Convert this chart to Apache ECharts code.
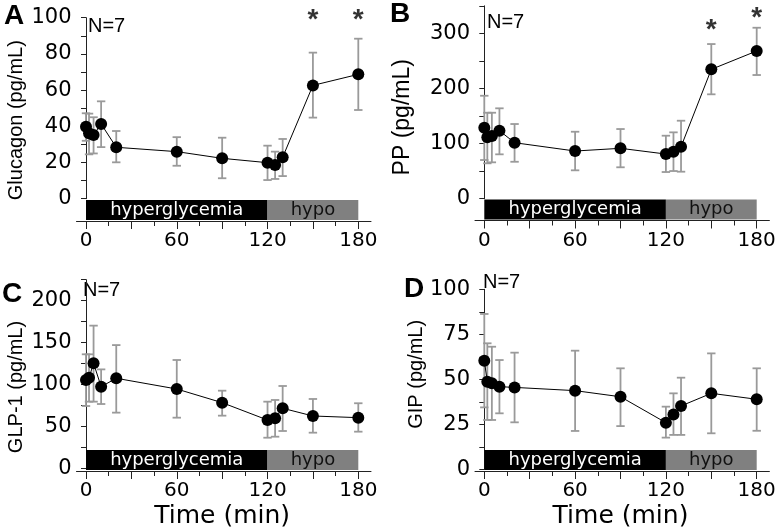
<!DOCTYPE html>
<html><head><meta charset="utf-8">
<script src="https://cdn.jsdelivr.net/npm/echarts@6/dist/echarts.min.js"></script>
<style>html,body{margin:0;padding:0;background:#fff}#c{width:778px;height:527px}</style>
</head><body><div id="c"></div>
<script>
// ---- data ----
const times = [0, 2, 5, 10, 20, 60, 90, 120, 125, 130, 150, 180];
const glucagonMean = [39.8, 36.1, 35.2, 41.3, 28.4, 26.0, 22.3, 19.9, 18.6, 22.9, 62.6, 68.7];
const glucagonLow  = [32.0, 24.5, 25.0, 28.5, 20.1, 18.2, 11.3, 10.3, 10.9, 12.5, 44.8, 49.0];
const glucagonHigh = [47.2, 47.0, 45.0, 53.8, 37.4, 34.0, 33.7, 29.3, 26.0, 33.0, 80.7, 88.4];
const ppMean = [128.8, 111.4, 113.7, 123.4, 101.6, 86.5, 91.4, 81.0, 85.3, 94.3, 234.7, 268.0];
const ppLow  = [70.2, 64.2, 66.0, 80.5, 67.0, 51.5, 57.0, 48.4, 50.2, 49.0, 189.4, 224.4];
const ppHigh = [186.8, 156.0, 156.0, 164.0, 135.5, 121.5, 126.4, 114.3, 120.4, 141.5, 280.6, 310.2];
const glp1Mean = [105.4, 108.1, 125.3, 97.4, 107.4, 94.6, 78.3, 57.6, 59.6, 71.6, 62.4, 60.4];
const glp1Low  = [74.3, 79.5, 79.5, 76.7, 66.4, 60.4, 62.8, 36.5, 37.7, 44.5, 42.5, 43.7];
const glp1High = [136.0, 136.0, 170.2, 118.0, 147.0, 129.2, 92.6, 79.5, 81.5, 98.2, 82.7, 77.6];
const gipMean = [60.3, 48.7, 47.8, 45.9, 45.5, 43.7, 40.3, 25.9, 30.5, 35.2, 42.2, 38.9];
const gipLow  = [34.4, 27.4, 27.4, 31.1, 26.1, 21.3, 24.0, 17.6, 19.1, 19.1, 20.0, 21.4];
const gipHigh = [86.3, 70.0, 68.1, 60.7, 64.8, 65.9, 56.1, 34.8, 42.2, 50.9, 64.4, 56.1];
const starTimes = [150, 180];
const glucagonStarY = [101.5, 101.5];
const ppStarY = [315, 336];
const phaseStart = [0, 120];
const phaseEnd = [120, 180];
const phaseNames = ['hyperglycemia', 'hypo'];
const xTickLabels = [0, 60, 120, 180];

// ---- layout ----
const panels = [
  {letter:'A', title:'Glucagon (pg/mL)', mean:glucagonMean, low:glucagonLow, high:glucagonHigh, stars:glucagonStarY,
   x0:86, x1:358.3, yTop:17.7, y0:198.7, axY:221, yAxX:76.5, ymax:100, tick:10, lab:20, gap:50, tpad:[0,24,0,0], tfs:20,
   lx:4, ly:2, nx:88, ny:16, xname:false},
  {letter:'B', title:'PP (pg/mL)', mean:ppMean, low:ppLow, high:ppHigh, stars:ppStarY,
   x0:484.3, x1:756.7, yTop:5.8, y0:198.7, axY:220.5, yAxX:475, ymax:350, tick:50, lab:100, gap:61, tpad:[0,30,0,0], tfs:23,
   lx:390, ly:0, nx:487, ny:12, xname:false},
  {letter:'C', title:'GLP-1 (pg/mL)', mean:glp1Mean, low:glp1Low, high:glp1High, stars:null,
   x0:86, x1:358.3, yTop:279.7, y0:468.3, axY:471, yAxX:76.5, ymax:225, tick:25, lab:50, gap:50, tpad:[0,26,0,0], tfs:20,
   lx:2, ly:280, nx:83, ny:280, xname:true},
  {letter:'D', title:'GIP (pg/mL)', mean:gipMean, low:gipLow, high:gipHigh, stars:null,
   x0:484.3, x1:756.7, yTop:289.3, y0:469.3, axY:471, yAxX:475, ymax:100, tick:12.5, lab:25, gap:46, tpad:[0,0,0,10], tfs:20,
   lx:404, ly:275, nx:483, ny:272, xname:true}
];

const FONT = 'Liberation Sans';
const TICKFONT = 'DejaVu Sans';
const grids = [], xAxes = [], yAxes = [], series = [], graphics = [];

function addGrid(g) {
  grids.push(Object.assign({containLabel:false, outerBoundsMode:'none'}, g));
  return grids.length - 1;
}

panels.forEach((p) => {
  const w = p.x1 - p.x0;
  // data grid
  const gData = addGrid({left:p.x0, top:p.yTop, width:w, height:p.y0 - p.yTop});
  xAxes.push({gridIndex:gData, type:'value', min:0, max:180, show:false});
  yAxes.push({gridIndex:gData, type:'value', min:0, max:p.ymax, interval:p.tick,
    offset:p.x0 - p.yAxX,
    axisLine:{show:true, lineStyle:{color:'#222', width:1}},
    axisTick:{show:true, inside:false, length:5, lineStyle:{color:'#222'}},
    splitLine:{show:false},
    axisLabel:{fontFamily:TICKFONT, fontSize:21, color:'#000', margin:5,
      formatter:(v) => (Math.abs(v / p.lab - Math.round(v / p.lab)) < 1e-6 ? String(v) : '')},
    name:p.title, nameLocation:'middle', nameGap:p.gap, nameRotate:90,
    nameTextStyle:{fontFamily:FONT, fontSize:p.tfs, color:'#000', padding:p.tpad}
  });
  // error bars
  series.push({type:'custom', xAxisIndex:gData, yAxisIndex:gData, z:2, clip:false,
    data: times.map((t, i) => [t, p.low[i], p.high[i]]),
    renderItem:(params, api) => {
      const t = api.value(0);
      const a = api.coord([t, api.value(1)]);
      const b = api.coord([t, api.value(2)]);
      const cw = 4.2;
      const st = {stroke:'#9a9a9a', lineWidth:1.8};
      return {type:'group', children:[
        {type:'line', shape:{x1:a[0], y1:a[1], x2:b[0], y2:b[1]}, style:st},
        {type:'line', shape:{x1:a[0]-cw, y1:a[1], x2:a[0]+cw, y2:a[1]}, style:st},
        {type:'line', shape:{x1:b[0]-cw, y1:b[1], x2:b[0]+cw, y2:b[1]}, style:st}
      ]};
    }
  });
  // mean line
  series.push({type:'line', xAxisIndex:gData, yAxisIndex:gData, z:3, clip:false,
    data: times.map((t, i) => [t, p.mean[i]]),
    symbol:'circle', symbolSize:12, showSymbol:true,
    itemStyle:{color:'#000'}, lineStyle:{color:'#000', width:1}, animation:false
  });
  if (p.stars) {
    series.push({type:'scatter', xAxisIndex:gData, yAxisIndex:gData, z:4, clip:false,
      data: starTimes.map((t, i) => [t, p.stars[i]]), symbolSize:0,
      label:{show:true, position:'inside', formatter:'*', fontFamily:FONT, fontWeight:'bold', fontSize:28, color:'#000', offset:[0, 5]}
    });
  }
  // tick / band grid
  const gAx = addGrid({left:p.x0, top:p.axY - 21, width:w, height:21});
  xAxes.push({gridIndex:gAx, type:'value', min:0, max:180, interval:30,
    axisLine:{show:false},
    axisTick:{show:true, inside:false, length:8, lineStyle:{color:'#222'}},
    minorTick:{show:true, splitNumber:2, length:5, lineStyle:{color:'#222'}},
    splitLine:{show:false},
    axisLabel:{fontFamily:TICKFONT, fontSize:20, color:'#000', margin:10,
      formatter:(v) => (xTickLabels.indexOf(v) >= 0 ? String(v) : '')},
    name: p.xname ? 'Time (min)' : '', nameLocation:'middle', nameGap:33,
    nameTextStyle:{fontFamily:TICKFONT, fontSize:25, color:'#000'}
  });
  yAxes.push({gridIndex:gAx, type:'value', min:0, max:21, show:false});
  series.push({type:'custom', xAxisIndex:gAx, yAxisIndex:gAx, z:1, clip:false,
    data: phaseNames.map((n, i) => [phaseStart[i], phaseEnd[i], i]),
    renderItem:(params, api) => {
      const i = api.value(2);
      const a = api.coord([api.value(0), 21]);
      const b = api.coord([api.value(1), 1]);
      return {type:'rect', shape:{x:a[0], y:a[1], width:b[0]-a[0], height:b[1]-a[1]},
        style:{fill: i === 0 ? '#000' : '#808080', text: phaseNames[i],
          textFill: i === 0 ? '#fff' : '#111', fontFamily:'DejaVu Sans', fontSize:18,
          textPosition:'inside'}};
    }
  });
  // full-length x axis line
  const gLine = addGrid({left:p.yAxX, top:p.axY - 1, width:(p.x1 + 12.7) - p.yAxX, height:1});
  xAxes.push({gridIndex:gLine, type:'value', min:0, max:1, axisLine:{show:true, lineStyle:{color:'#222', width:1}},
    axisTick:{show:false}, axisLabel:{show:false}, splitLine:{show:false}});
  yAxes.push({gridIndex:gLine, type:'value', min:0, max:1, show:false});
  // texts
  graphics.push({type:'text', left:p.lx, top:p.ly, style:{text:p.letter, fontFamily:FONT, fontWeight:'bold', fontSize:28, fill:'#000'}});
  graphics.push({type:'text', left:p.nx, top:p.ny, style:{text:'N=7', fontFamily:FONT, fontSize:20, fill:'#000'}});
});

const chart = echarts.init(document.getElementById('c'), null, {renderer:'canvas'});
chart.setOption({
  animation:false,
  grid:grids, xAxis:xAxes, yAxis:yAxes, series:series, graphic:graphics
});
</script>
</body></html>
